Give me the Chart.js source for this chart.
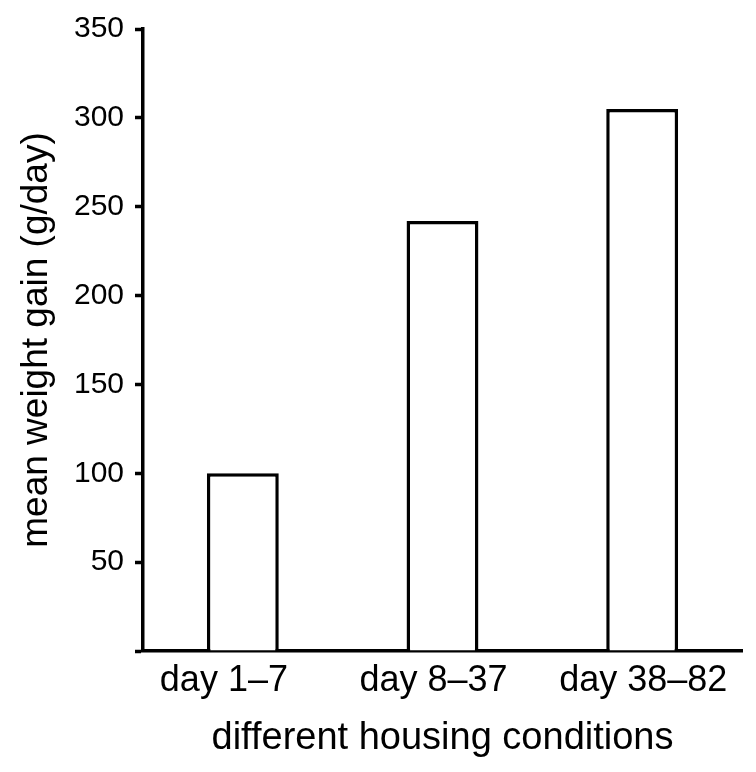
<!DOCTYPE html>
<html>
<head>
<meta charset="utf-8">
<script src="https://cdn.jsdelivr.net/npm/chart.js@4.4.1/dist/chart.umd.min.js"></script>
<style>
  html, body { margin: 0; padding: 0; background: #fff; }
  #wrap { width: 756px; height: 772px; position: relative; }
</style>
</head>
<body>
<div id="wrap"><canvas id="c"></canvas></div>
<script>
const categories = ["day 1\u20137", "day 8\u201337", "day 38\u201382"];
const weightGain = [100, 242, 305];
const yTicks = [0, 50, 100, 150, 200, 250, 300, 350];
const yTitle = "mean weight gain (g/day)";
const xTitle = "different housing conditions";

const FONT = "'Liberation Sans', Arial, Helvetica, sans-serif";

new Chart(document.getElementById('c'), {
  type: 'bar',
  data: {
    labels: categories,
    datasets: [{
      data: weightGain,
      backgroundColor: '#ffffff',
      borderColor: '#000000',
      borderWidth: 3.5,
      barPercentage: 0.36,
      categoryPercentage: 1.0
    }]
  },
  options: {
    responsive: true,
    maintainAspectRatio: false,
    animation: false,
    layout: { padding: { left: 0, top: 29, right: 14, bottom: 0 } },
    plugins: { legend: { display: false }, tooltip: { enabled: false } },
    scales: {
      x: {
        grid: { display: false, drawTicks: false },
        border: { display: true, color: '#000', width: 3.5 },
        ticks: {
          color: '#000',
          font: { family: FONT, size: 36 },
          padding: 8,
          maxRotation: 0,
          align: 'start',
          labelOffset: -83
        },
        title: {
          display: true,
          text: xTitle,
          color: '#000',
          font: { family: FONT, size: 38 },
          padding: { top: 4, bottom: 11 }
        },
        afterFit: (s) => {
          s.height = 772 - 651;
          s.paddingLeft = 0;
          s.paddingRight = 0;
        }
      },
      y: {
        min: 0,
        max: 350,
        afterBuildTicks: (s) => { s.ticks = yTicks.map(v => ({ value: v })); },
        grid: {
          display: true,
          drawOnChartArea: false,
          drawTicks: true,
          tickLength: 8,
          tickWidth: 3.5,
          tickColor: '#000'
        },
        border: { display: true, color: '#000', width: 3.5 },
        ticks: {
          color: '#000',
          font: { family: FONT, size: 30 },
          padding: 11,
          callback: (v) => (v === 0 ? '' : String(v))
        },
        title: {
          display: true,
          text: yTitle,
          color: '#000',
          font: { family: FONT, size: 37 },
          padding: { top: 15, bottom: 0 }
        },
        afterFit: (s) => {
          s.width = 143;
          s.paddingTop = 0;
          s.paddingBottom = 0;
        }
      }
    }
  }
});
</script>
</body>
</html>
